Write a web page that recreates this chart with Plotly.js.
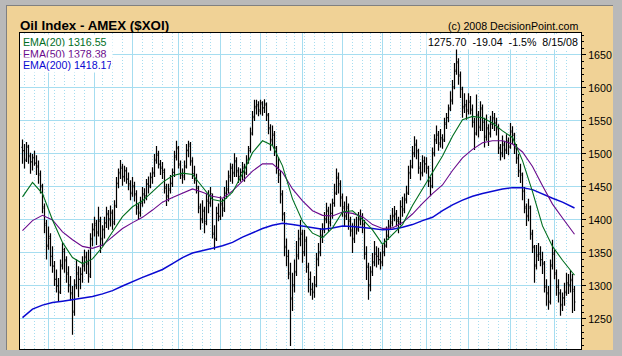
<!DOCTYPE html>
<html>
<head>
<meta charset="utf-8">
<script src="https://cdn.plot.ly/plotly-3.0.1.min.js"></script>
<style>
  html, body { margin: 0; padding: 0; background: #B9B9B9; }
  #wrap { position: relative; width: 622px; height: 356px; background: #B9B9B9; overflow: hidden; }
  #edge { position: absolute; left: 6px; top: 5px; width: 607px; height: 345px; background: #808080; }
  #tan { position: absolute; left: 7px; top: 6px; width: 606px; height: 344px; background: #F0D296; }
  #chart { position: absolute; left: 0; top: 0; width: 622px; height: 356px; }
</style>
</head>
<body>
<div id="wrap"><div id="edge"></div><div id="tan"></div><div id="chart"></div></div>
<script>
// Trading-day bar index: 0 = 7/13/07 ... 276 = 8/15/08
const monthStarts = [13,36,55,78,99,119,140,160,180,202,223,244,266];
const weekStarts = [1,6,11,16,21,26,31,36,40,45,50,55,60,65,70,75,80,85,90,94,99,104,109,114,119,122,127,132,136,141,146,151,155,160,165,170,174,179,184,189,194,199,204,209,214,219,223,228,233,238,243,247,252,257,262,267,272];

const openP = [
1510,1505,1492,1510,1496,1488,1494,1486,1482,1468,1450,1418,
1392,1362,1372,1345,1330,1310,1300,1292,1332,1352,1338,1318,
1302,1288,1262,1302,1318,1310,1318,1332,1343,1333,1318,1372,
1386,1392,1382,1398,1372,1386,1396,1408,1402,1410,1397,1422,
1456,1472,1478,1466,1474,1462,1453,1442,1450,1438,1418,1412,
1427,1438,1437,1454,1452,1464,1472,1492,1498,1484,1478,1472,
1448,1437,1447,1456,1472,1497,1508,1483,1468,1467,1482,1506,
1512,1488,1470,1460,1448,1418,1402,1413,1398,1428,1427,1435,
1378,1372,1410,1406,1423,1418,1442,1447,1467,1478,1472,1488,
1473,1466,1472,1478,1472,1492,1508,1532,1557,1572,1573,1567,
1576,1570,1574,1558,1538,1522,1528,1508,1478,1468,1438,1408,
1358,1345,1318,1282,1302,1322,1347,1372,1378,1352,1368,1328,
1310,1295,1292,1302,1342,1352,1377,1387,1402,1413,1397,1410,
1426,1442,1463,1453,1433,1418,1407,1418,1398,1383,1372,1390,
1387,1402,1403,1393,1348,1328,1302,1322,1337,1348,1345,1340,
1337,1352,1362,1377,1392,1397,1407,1408,1398,1397,1420,1417,
1432,1442,1472,1482,1502,1513,1503,1478,1472,1488,1485,1478,
1458,1452,1502,1522,1528,1517,1523,1522,1547,1555,1570,1582,
1602,1627,1638,1618,1598,1572,1573,1567,1578,1566,1548,1532,
1558,1542,1568,1548,1527,1538,1532,1547,1553,1546,1538,1508,
1502,1513,1507,1518,1512,1533,1528,1508,1493,1473,1468,1443,
1418,1407,1418,1378,1358,1332,1347,1348,1340,1333,1298,1288,
1277,1332,1348,1318,1298,1288,1272,1282,1292,1303,1302,1308,
1292];

const highP = [
1522,1515,1518,1514,1502,1500,1505,1498,1490,1475,1455,1425,
1400,1390,1380,1360,1338,1325,1312,1340,1365,1358,1345,1330,
1315,1300,1310,1340,1330,1328,1345,1355,1352,1355,1380,1395,
1405,1400,1420,1405,1392,1405,1420,1415,1422,1416,1430,1465,
1478,1491,1485,1482,1480,1472,1460,1465,1458,1445,1425,1435,
1450,1448,1462,1466,1472,1480,1500,1512,1505,1491,1488,1478,
1455,1455,1468,1478,1505,1520,1512,1490,1478,1490,1515,1520,
1518,1495,1482,1470,1452,1425,1430,1420,1440,1445,1450,1440,
1392,1420,1425,1436,1432,1450,1460,1475,1486,1485,1501,1495,
1480,1478,1488,1485,1498,1512,1540,1565,1582,1582,1580,1582,
1580,1583,1578,1562,1545,1543,1535,1512,1495,1475,1445,1412,
1372,1355,1335,1320,1340,1368,1385,1400,1385,1385,1375,1335,
1322,1305,1315,1350,1365,1388,1395,1412,1426,1420,1425,1432,
1455,1478,1472,1460,1440,1428,1436,1425,1405,1395,1402,1405,
1412,1416,1410,1400,1360,1335,1330,1350,1368,1360,1358,1352,
1362,1372,1390,1400,1408,1418,1421,1415,1405,1430,1435,1440,
1452,1482,1491,1512,1527,1522,1508,1488,1498,1496,1495,1482,
1465,1510,1530,1543,1535,1538,1530,1555,1562,1575,1595,1612,
1638,1663,1645,1625,1602,1592,1582,1592,1588,1575,1555,1590,
1565,1580,1575,1555,1560,1545,1558,1565,1562,1555,1545,1515,
1528,1520,1530,1525,1547,1542,1532,1515,1500,1485,1472,1450,
1425,1432,1422,1385,1362,1362,1365,1360,1352,1338,1310,1300,
1340,1370,1355,1325,1310,1295,1290,1305,1320,1318,1324,1318,
1300];

const lowP = [
1485,1478,1488,1485,1470,1475,1482,1468,1455,1440,1410,1380,
1340,1355,1330,1320,1300,1290,1276,1288,1325,1320,1305,1290,
1278,1226,1255,1295,1283,1295,1305,1322,1318,1305,1312,1360,
1375,1362,1375,1350,1360,1372,1388,1385,1390,1385,1392,1418,
1448,1462,1452,1458,1455,1445,1430,1435,1428,1408,1400,1405,
1420,1425,1430,1440,1448,1455,1465,1485,1478,1468,1462,1440,
1421,1428,1440,1450,1465,1490,1478,1462,1455,1460,1478,1495,
1482,1462,1455,1440,1410,1385,1395,1380,1392,1410,1420,1372,
1355,1368,1398,1400,1405,1412,1432,1440,1458,1455,1465,1465,
1456,1458,1460,1458,1468,1485,1502,1528,1550,1560,1557,1560,
1558,1562,1550,1530,1505,1512,1497,1470,1456,1425,1398,1345,
1330,1310,1209,1262,1290,1315,1340,1360,1335,1345,1320,1290,
1285,1279,1282,1298,1330,1345,1365,1380,1395,1382,1390,1402,
1420,1438,1440,1420,1405,1390,1400,1385,1375,1350,1365,1378,
1382,1392,1380,1340,1309,1279,1292,1315,1330,1328,1332,1325,
1330,1345,1358,1370,1385,1390,1398,1390,1380,1392,1405,1410,
1425,1438,1462,1478,1495,1492,1470,1460,1466,1472,1470,1450,
1436,1448,1496,1515,1505,1510,1508,1518,1538,1548,1565,1575,
1598,1620,1605,1585,1555,1562,1552,1560,1560,1540,1506,1528,
1525,1535,1535,1510,1520,1512,1525,1538,1535,1528,1500,1490,
1495,1492,1500,1498,1508,1515,1500,1485,1465,1456,1430,1410,
1391,1398,1370,1350,1305,1325,1338,1330,1318,1290,1270,1264,
1272,1325,1310,1285,1275,1255,1262,1270,1285,1288,1290,1259,
1262];

const closeP = [
1505,1490,1512,1498,1488,1495,1486,1480,1470,1452,1420,1395,
1360,1375,1345,1330,1310,1300,1290,1330,1355,1340,1320,1300,
1290,1260,1300,1320,1310,1318,1330,1345,1335,1315,1370,1385,
1395,1380,1400,1370,1385,1395,1410,1400,1412,1395,1420,1455,
1470,1480,1465,1475,1462,1455,1440,1452,1440,1420,1410,1425,
1440,1435,1455,1450,1465,1470,1490,1500,1485,1480,1475,1450,
1435,1445,1455,1472,1495,1510,1485,1470,1465,1480,1505,1515,
1490,1470,1462,1450,1420,1400,1415,1395,1430,1425,1440,1380,
1370,1410,1405,1425,1415,1440,1445,1465,1480,1470,1490,1475,
1465,1472,1480,1470,1490,1505,1530,1555,1570,1575,1565,1578,
1570,1576,1560,1540,1520,1530,1510,1480,1470,1440,1410,1360,
1345,1320,1280,1300,1320,1345,1370,1380,1350,1370,1330,1310,
1295,1290,1300,1340,1350,1375,1385,1400,1415,1395,1410,1425,
1440,1465,1455,1435,1420,1405,1420,1400,1385,1370,1390,1385,
1400,1405,1395,1350,1330,1300,1320,1335,1350,1345,1340,1335,
1350,1360,1375,1390,1395,1405,1410,1400,1395,1420,1415,1430,
1440,1470,1480,1500,1515,1505,1480,1470,1490,1485,1480,1460,
1450,1500,1520,1530,1515,1525,1520,1545,1555,1568,1580,1600,
1625,1640,1620,1600,1570,1575,1565,1580,1568,1550,1530,1560,
1540,1570,1550,1525,1540,1530,1545,1555,1548,1540,1510,1500,
1515,1505,1520,1510,1535,1530,1510,1495,1475,1470,1445,1420,
1405,1420,1380,1360,1330,1345,1350,1340,1335,1300,1290,1275,
1330,1350,1320,1300,1290,1270,1282,1290,1305,1300,1310,1294.74,
1275.70];

// EMA values at every 5th bar (and the last bar)
const emaIdx = [0,5,10,15,20,25,30,35,40,45,50,55,60,65,70,75,80,85,90,95,100,105,110,115,120,125,130,135,140,145,150,155,160,165,170,175,180,185,190,195,200,205,210,215,220,225,230,235,240,245,250,255,260,265,270,275,276];
const ema20 = [1435,1457,1440,1400,1366,1343,1334,1341,1359,1381,1405,1420,1429,1443,1457,1467,1471,1469,1450,1431,1428,1442,1470,1502,1520,1513,1482,1432,1398,1380,1373,1388,1412,1414,1401,1385,1363,1378,1393,1422,1447,1472,1497,1527,1552,1557,1555,1547,1535,1525,1490,1443,1391,1360,1339,1320,1316.55];
const ema50 = [1384,1399,1407,1400,1382,1370,1360,1357,1362,1375,1387,1396,1404,1415,1427,1434,1440,1447,1442,1436,1433,1444,1459,1474,1485,1485,1472,1447,1429,1414,1407,1406,1412,1410,1405,1393,1387,1388,1396,1409,1425,1440,1453,1475,1494,1507,1517,1520,1520,1515,1503,1481,1452,1424,1403,1381,1378.38];
const ema200 = [1252,1265,1271,1275,1277,1279,1281,1284,1288,1293,1300,1307,1313,1319,1325,1334,1343,1350,1353,1357,1361,1366,1374,1381,1387,1392,1395,1393,1391,1388,1386,1388,1391,1390,1389,1387,1385,1386,1389,1393,1399,1404,1414,1423,1430,1436,1440,1444,1447,1449,1449,1446,1439,1433,1427,1420,1418.17];

const yTicks = [1250,1300,1350,1400,1450,1500,1550,1600,1650];
const titleText = 'Oil Index - AMEX ($XOI)';
const creditText = '(c) 2008 DecisionPoint.com';
const statsText = ['1275.70', '-19.04', '-1.5%', '8/15/08'];
const emaLabels = ['EMA(20) 1316.55', 'EMA(50) 1378.38', 'EMA(200) 1418.17'];

const barX = closeP.map((_, i) => i);
const FONT = 'Arial, "Liberation Sans", sans-serif';
const GRID = '#A6DDF0';
const cGreen = '#006E1E', cPurple = '#6A0A8C', cBlue = '#0A0AD2';

const traces = [
  { type: 'ohlc', x: barX, open: openP, high: highP, low: lowP, close: closeP,
    increasing: { line: { color: '#000', width: 1.2 } },
    decreasing: { line: { color: '#000', width: 1.2 } },
    tickwidth: 0.5, hoverinfo: 'skip', showlegend: false },
  { type: 'scatter', mode: 'lines', x: emaIdx, y: ema200, line: { color: cBlue, width: 1.5 }, hoverinfo: 'skip', showlegend: false },
  { type: 'scatter', mode: 'lines', x: emaIdx, y: ema50, line: { color: cPurple, width: 1.1 }, hoverinfo: 'skip', showlegend: false },
  { type: 'scatter', mode: 'lines', x: emaIdx, y: ema20, line: { color: cGreen, width: 1.1 }, hoverinfo: 'skip', showlegend: false }
];

const sp = '\u00a0\u00a0';
const annotations = [
  { text: '<b>' + titleText + '</b>', xref: 'paper', yref: 'paper', x: 0, y: 1, xanchor: 'left', yanchor: 'bottom',
    xshift: -2, yshift: -2, showarrow: false, font: { family: FONT, size: 13.33, color: '#000' } },
  { text: creditText, xref: 'paper', yref: 'paper', x: 1, y: 1, xanchor: 'right', yanchor: 'bottom',
    xshift: -1, yshift: -1, showarrow: false, font: { family: FONT, size: 10.67, color: '#000' } },
  { text: statsText.join(sp), xref: 'paper', yref: 'paper', x: 1, y: 1, xanchor: 'right', yanchor: 'top',
    xshift: -1, yshift: -1, showarrow: false, bgcolor: '#fff', borderpad: 1, font: { family: FONT, size: 10.67, color: '#000' } }
];
const labColors = [cGreen, cPurple, cBlue];
emaLabels.forEach((t, k) => {
  annotations.push({ text: t, xref: 'paper', yref: 'paper', x: 0, y: 1, xanchor: 'left', yanchor: 'top', align: 'left',
    width: 88, xshift: 1, yshift: -1 - k * 11.7, showarrow: false, bgcolor: '#fff', borderpad: 1,
    font: { family: FONT, size: 10.67, color: labColors[k] } });
});

const layout = {
  width: 622, height: 356,
  margin: { l: 20, r: 41, t: 33, b: 7, pad: 0 },
  paper_bgcolor: 'rgba(0,0,0,0)', plot_bgcolor: '#fff',
  showlegend: false, hovermode: false, dragmode: false,
  font: { family: FONT, size: 10.67, color: '#000' },
  xaxis: {
    range: [-1.25, 279.25], tickmode: 'array', tickvals: monthStarts, showticklabels: false, ticks: '',
    showgrid: true, gridcolor: GRID, gridwidth: 1, zeroline: false,
    showline: true, linecolor: '#000', linewidth: 1, mirror: true,
    rangeslider: { visible: false },
    minor: { tickmode: 'array', tickvals: weekStarts, showgrid: true, gridcolor: GRID, gridwidth: 1, griddash: '1px,2px', ticks: '' }
  },
  yaxis: {
    side: 'right', range: [1204.5, 1683.3], tickmode: 'array', tickvals: yTicks,
    ticks: 'outside', ticklen: 4, tickcolor: '#000', tickwidth: 1,
    showgrid: true, gridcolor: GRID, gridwidth: 1, zeroline: false,
    showline: true, linecolor: '#000', linewidth: 1, mirror: true,
    tickfont: { family: FONT, size: 10.67, color: '#000' },
    minor: { dtick: 10, tick0: 1250, ticks: 'outside', ticklen: 2, tickcolor: '#000', showgrid: false }
  },
  annotations: annotations
};

Plotly.newPlot('chart', traces, layout, { staticPlot: true, displayModeBar: false });
</script>
</body>
</html>
